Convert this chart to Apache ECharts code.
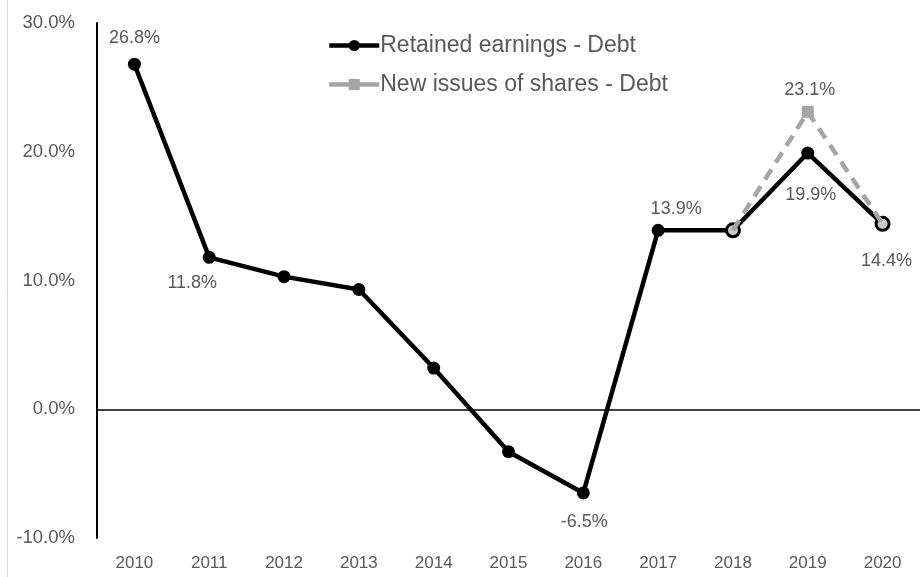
<!DOCTYPE html>
<html>
<head>
<meta charset="utf-8">
<script src="https://cdn.jsdelivr.net/npm/echarts@6/dist/echarts.min.js"></script>
<style>
  html, body { margin: 0; padding: 0; background: #fff; }
  #chart { width: 920px; height: 577px; }
</style>
</head>
<body>
<div id="chart"></div>
<script>
// data
var years = ['2010', '2011', '2012', '2013', '2014', '2015', '2016', '2017', '2018', '2019', '2020'];
var retained = [26.8, 11.8, 10.3, 9.3, 3.2, -3.3, -6.5, 13.9, 13.9, 19.9, 14.4];
var newIssues = [null, null, null, null, null, null, null, null, 13.9, 23.1, 14.4];
var yTicks = [-10, 0, 10, 20, 30];

var textColor = '#595959';
var font = 'Liberation Sans';

function pct(v) {
  return v.toFixed(1) + '%';
}

// which points carry a label, and where
var retainedLabels = {
  0: { position: 'top', offset: [0, -6] },
  1: { position: 'bottom', offset: [-17, 5] },
  6: { position: 'bottom', offset: [1, 9] },
  7: { position: 'top', offset: [18, -1] },
  9: { position: 'bottom', offset: [3, 21] },
  10: { position: 'bottom', offset: [4, 15] }
};
var newLabels = {
  9: { position: 'top', offset: [2, -2] }
};
// points where the two lines meet: black ring with grey fill
var ringed = [8, 10];

var retainedData = retained.map(function (v, i) {
  var item = { value: v };
  if (retainedLabels[i]) {
    item.label = Object.assign({ show: true }, retainedLabels[i]);
  }
  if (ringed.indexOf(i) >= 0) {
    item.itemStyle = { color: '#c8c8c8', borderColor: '#000', borderWidth: 3 };
  }
  return item;
});

var newData = newIssues.map(function (v, i) {
  var item = { value: v };
  if (newLabels[i]) {
    item.label = Object.assign({ show: true }, newLabels[i]);
  } else {
    item.symbol = 'none';
  }
  return item;
});

var myChart = echarts.init(document.getElementById('chart'), null, { renderer: 'canvas' });

var option = {
  animation: false,
  backgroundColor: '#fff',
  textStyle: { fontFamily: font },
  graphic: [{
    type: 'line',
    shape: { x1: 7.5, y1: 0, x2: 7.5, y2: 577 },
    style: { stroke: '#d9d9d9', lineWidth: 1 },
    silent: true
  }],
  legend: {
    orient: 'vertical',
    left: 322,
    top: 29,
    itemWidth: 50,
    itemHeight: 14,
    itemGap: 16,
    lineStyle: { type: 'solid', width: 4.5 },
    textStyle: { color: textColor, fontSize: 23, fontFamily: font, padding: [0, 0, 0, -4] },
    data: ['Retained earnings - Debt', 'New issues of shares - Debt']
  },
  grid: { left: 97, right: -15, top: 23, bottom: 39, containLabel: false },
  xAxis: {
    type: 'category',
    data: years,
    boundaryGap: true,
    axisLine: { show: false },
    axisTick: { show: false },
    axisLabel: { color: textColor, fontSize: 17, margin: 17, fontFamily: font },
    splitLine: { show: false }
  },
  yAxis: {
    type: 'value',
    min: yTicks[0],
    max: yTicks[yTicks.length - 1],
    interval: 10,
    axisLine: { show: true, lineStyle: { color: '#000', width: 2 } },
    axisTick: { show: false },
    splitLine: { show: false },
    axisLabel: { color: textColor, fontSize: 18.5, margin: 22, fontFamily: font, formatter: pct }
  },
  series: [
    {
      name: 'Retained earnings - Debt',
      type: 'line',
      data: retainedData,
      symbol: 'circle',
      symbolSize: 13,
      itemStyle: { color: '#000' },
      lineStyle: { color: '#000', width: 4.5 },
      label: {
        show: false,
        color: textColor,
        fontSize: 18,
        fontFamily: font,
        formatter: function (p) { return pct(p.value); }
      },
      markLine: {
        silent: true,
        symbol: 'none',
        label: { show: false },
        lineStyle: { color: '#000', width: 1.5, type: 'solid' },
        data: [{ yAxis: 0 }]
      },
      z: 2
    },
    {
      name: 'New issues of shares - Debt',
      type: 'line',
      data: newData,
      symbol: 'rect',
      symbolSize: 12,
      itemStyle: { color: '#a5a5a5' },
      lineStyle: { color: '#a5a5a5', width: 4.5, type: [12, 8] },
      label: {
        show: false,
        color: textColor,
        fontSize: 18,
        fontFamily: font,
        formatter: function (p) { return pct(p.value); }
      },
      z: 3
    }
  ]
};

myChart.setOption(option, true);
window.addEventListener('resize', myChart.resize);
</script>
</body>
</html>
